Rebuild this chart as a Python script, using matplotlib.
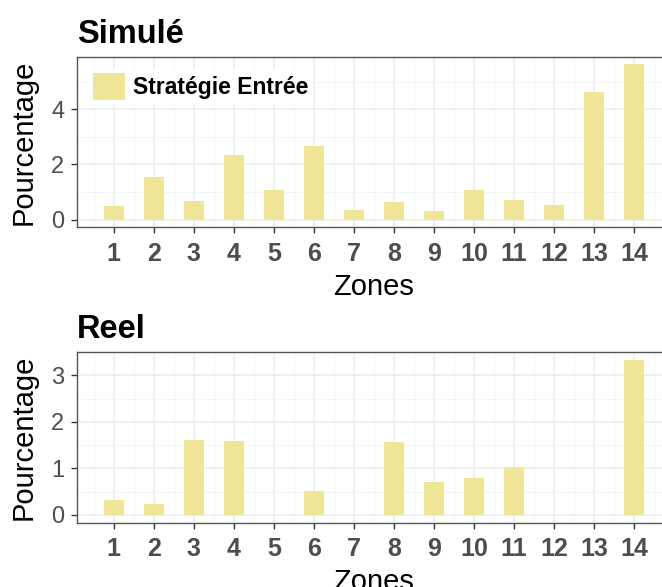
import matplotlib.pyplot as plt
from matplotlib.ticker import MultipleLocator

plt.rcParams['font.family'] = ['Liberation Sans', 'DejaVu Sans']

zones = list(range(1, 15))
simule = [0.48, 1.55, 0.69, 2.34, 1.07, 2.67, 0.35, 0.64, 0.32, 1.07, 0.70, 0.53, 4.62, 5.63]
reel = [0.32, 0.24, 1.62, 1.58, 0.0, 0.52, 0.0, 1.56, 0.70, 0.80, 1.03, 0.0, 0.0, 3.33]
titres = ["Simulé", "Reel"]
serie = "Stratégie Entrée"

bar_col = '#EEE696'
W, H = 662, 587
fig = plt.figure(figsize=(W / 100, H / 100), dpi=100)

def px_axes(left, top, right, bottom):
    return fig.add_axes([left / W, 1 - bottom / H, (right - left) / W, (bottom - top) / H])

ax1 = px_axes(76.7, 56.7, 671.3, 227.3)
ax2 = px_axes(76.7, 352.3, 671.3, 522.7)

for ax, vals, titre, ystep in [(ax1, simule, titres[0], 2), (ax2, reel, titres[1], 1)]:
    ax.bar(zones, vals, width=0.5, color=bar_col, label=serie, zorder=3)
    ymax = max(vals)
    ax.set_ylim(-0.05 * ymax, 1.05 * ymax)
    ax.set_xlim(0.75 - 0.05 * 13.5, 14.25 + 0.05 * 13.5)
    ax.xaxis.set_major_locator(MultipleLocator(1))
    ax.xaxis.set_minor_locator(MultipleLocator(0.5))
    ax.yaxis.set_major_locator(MultipleLocator(ystep))
    ax.yaxis.set_minor_locator(MultipleLocator(ystep / 2))
    ax.grid(which='major', color='#EBEBEB', linewidth=1.1, zorder=0)
    ax.grid(which='minor', color='#F2F2F2', linewidth=0.6, zorder=0)
    ax.set_axisbelow(True)
    for s in ax.spines.values():
        s.set_color('#555555')
        s.set_linewidth(1.0)
    ax.tick_params(which='major', length=4, width=1.0, color='#333333')
    ax.tick_params(which='minor', length=0)
    ax.tick_params(axis='x', labelsize=18, labelcolor='#4D4D4D', pad=6.5)
    ax.tick_params(axis='y', labelsize=17, labelcolor='#4D4D4D', pad=5)
    for lab in ax.get_xticklabels():
        lab.set_fontweight('bold')
    ax.set_xlabel("Zones", fontsize=21, labelpad=5)
    ax.set_ylabel("Pourcentage", fontsize=21, labelpad=10)
    ax.set_title(titre, loc='left', fontsize=23.5, fontweight='bold', pad=10)

leg = ax1.legend(loc='upper left', bbox_to_anchor=(0.02, 0.93), borderaxespad=0,
                 frameon=True, fancybox=False, edgecolor='none', facecolor='white', framealpha=1,
                 handlelength=1.4, handleheight=1.4, handletextpad=0.35, borderpad=0.2,
                 prop={'weight': 'bold', 'size': 16.5})

fig.savefig('out.png', dpi=100)
